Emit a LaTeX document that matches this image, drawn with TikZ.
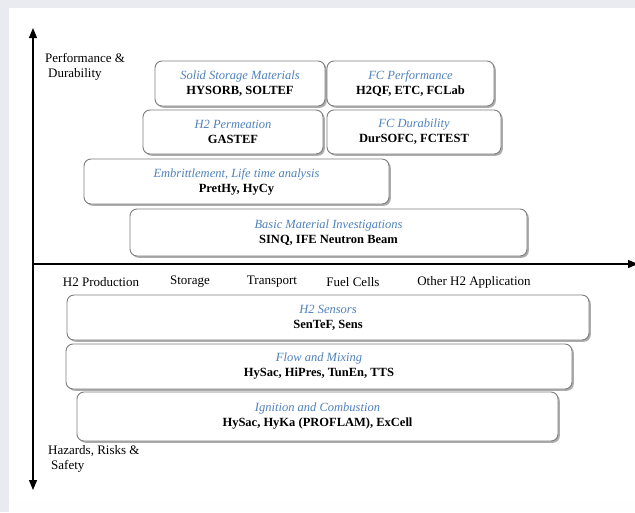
\documentclass[tikz,border=0pt]{standalone}
\usepackage{fontspec}
\setmainfont{Liberation Serif}
\usepackage{tikz}
\usetikzlibrary{arrows.meta,shadows}
\definecolor{page}{RGB}{233,235,241}
\definecolor{title}{RGB}{79,129,189}
\definecolor{frame}{RGB}{125,125,125}
\tikzset{
  project/.style={draw=frame, line width=0.9pt, fill=white, rounded corners=7pt,
    align=center, inner sep=0pt,
    drop shadow={shadow xshift=1.8pt, shadow yshift=-1.8pt, fill=black!40, opacity=0.8},
    font=\fontsize{12.5}{15}\selectfont},
  axis/.style={line width=1.2pt, -{Triangle[width=8pt,length=10pt]}},
  category/.style={font=\fontsize{13}{15}\selectfont},
  side/.style={align=left, anchor=west, inner sep=0pt, font=\fontsize{13}{15.5}\selectfont}
}
\newcommand{\projectbox}[7]{\node[project, minimum width=#4pt, minimum height=#5pt] (#1) at (#2,#3)
  {{\itshape\color{title}#6}\\ \textbf{#7}};}
\begin{document}
\begin{tikzpicture}[x=1pt,y=-1pt]
\useasboundingbox (0,0) rectangle (635,512);
\fill[page] (0,0) rectangle (635,512);
\fill[white] (9,8) rectangle (635,500);
\fill[white!96!page] (9,500) rectangle (635,512);
% axes
\coordinate (origin) at (33,264);
\coordinate (up) at (33,28);
\coordinate (down) at (33,490);
\coordinate (right) at (638,264);
\draw[axis] (origin) -- (up);
\draw[axis] (origin) -- (down);
\draw[axis] (origin) -- (right);
\node[side] (perf) at (45,67) {Performance \&\\\hspace{3pt}Durability};
\node[side] (hazard) at (48,459) {Hazards, Risks \&\\\hspace{3pt}Safety};
% categories
\node[category] (prod) at (101,282) {H2 Production};
\node[category] (stor) at (190,282) {Storage};
\node[category] (trans) at (272,282) {Transport};
\node[category] (fuel) at (353,282) {Fuel Cells};
\node[category] (other) at (474,282) {Other H2 Application};
% upper boxes
\projectbox{solid}{240}{83.5}{170}{45}{Solid Storage Materials}{HYSORB, SOLTEF}
\projectbox{fcperf}{410.5}{83.5}{167}{45}{FC Performance}{H2QF, ETC, FCLab}
\projectbox{perm}{233}{132}{180}{44}{H2 Permeation}{GASTEF}
\projectbox{fcdur}{414}{132}{174}{44}{FC Durability}{DurSOFC, FCTEST}
\projectbox{embr}{236.5}{181.5}{305}{45}{Embrittlement, Life time analysis}{PretHy, HyCy}
\projectbox{basic}{328.5}{232.5}{397}{47}{Basic Material Investigations}{SINQ, IFE Neutron Beam}
% lower boxes
\projectbox{sensors}{328}{317.5}{522}{45}{H2 Sensors}{SenTeF, Sens}
\projectbox{flow}{319}{366.5}{506}{45}{Flow and Mixing}{HySac, HiPres, TunEn, TTS}
\projectbox{ignition}{317.5}{416.5}{481}{49}{Ignition and Combustion}{HySac, HyKa (PROFLAM), ExCell}
\end{tikzpicture}
\end{document}
